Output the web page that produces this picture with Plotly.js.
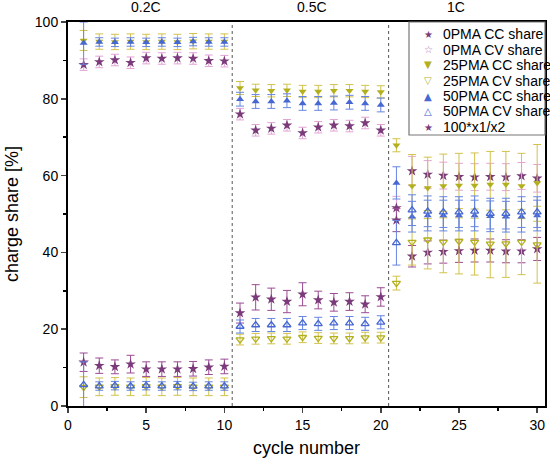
<!DOCTYPE html>
<html>
<head>
<meta charset="utf-8">
<script src="https://cdn.plot.ly/plotly-3.0.1.min.js"></script>
<style>html,body{margin:0;padding:0;background:#fff}#chart{width:550px;height:468px}</style>
</head>
<body>
<div id="chart"></div>
<script>
// ---- data ----
var cycles = [1,2,3,4,5,6,7,8,9,10,11,12,13,14,15,16,17,18,19,20,21,22,23,24,25,26,27,28,29,30];

var pma0CC = [88.9,89.6,90.1,89.4,90.6,90.5,90.6,90.5,89.9,89.8,
              76.0,71.8,72.3,73.1,71.1,72.6,73.1,72.9,73.7,71.8,
              51.6,61.2,60.3,60.0,59.7,59.6,59.7,59.6,59.9,59.3];
var pma0CCerr = [1.5,1.5,1.5,1.5,1.5,1.5,1.5,1.5,1.5,1.5,
                 1.5,1.5,1.5,1.5,1.5,1.5,1.5,1.5,1.5,1.5,
                 3.0,3.8,3.6,3.5,3.5,3.5,3.5,3.5,3.5,3.6];
var pma0CV = [11.4,10.5,10.2,10.9,9.6,9.6,9.6,9.7,10.1,10.3,
              24.2,28.3,27.8,27.2,29.1,27.6,27.0,27.2,26.5,28.4,
              48.4,39.0,40.0,40.2,40.4,40.5,40.5,40.3,40.3,40.9];
var pma0CVerr = [2.4,2.0,1.8,2.3,1.9,1.9,1.9,1.9,1.9,1.9,
                 2.6,3.3,2.9,2.9,3.0,2.3,2.3,2.3,2.2,2.4,
                 3.0,2.8,3.0,3.0,3.0,3.0,3.0,3.0,3.0,3.0];

var pma25CC = [95.2,94.9,94.8,94.9,94.8,94.9,94.8,95.0,94.9,94.9,
               82.8,82.2,82.1,82.2,81.9,81.9,82.1,82.1,81.9,81.8,
               67.9,57.3,56.8,57.3,57.4,57.4,57.7,57.7,57.3,58.1];
var pma25CCerr = [2.6,2.0,2.0,2.0,2.0,2.0,2.0,2.0,2.0,2.0,
                  1.7,1.6,1.6,1.6,1.6,1.6,1.6,1.6,1.6,1.6,
                  1.7,8.2,8.0,8.3,8.4,8.5,8.6,8.6,8.5,10.0];
var pma25CV = [4.9,5.0,5.1,5.0,5.1,5.0,5.1,5.0,5.0,5.0,
               17.3,17.5,17.6,17.5,17.9,17.7,17.6,17.6,17.8,17.8,
               32.0,42.7,43.3,42.7,42.9,42.7,42.2,42.3,42.7,42.0];
var pma25CVerr = [2.7,2.3,2.3,2.3,2.3,2.3,2.3,2.3,2.3,2.3,
                  1.4,1.4,1.4,1.4,1.4,1.4,1.4,1.4,1.4,1.4,
                  1.8,6.0,7.6,8.0,8.5,8.6,8.8,8.8,8.5,10.0];

var pma50CC = [94.5,94.8,94.7,94.8,94.7,94.8,94.7,94.9,94.8,94.8,
               79.9,79.3,79.3,79.5,78.8,78.8,78.9,79.1,78.8,78.4,
               58.1,49.3,49.6,49.6,49.6,49.6,49.4,49.3,49.3,49.6];
var pma50CCerr = [5.5,1.1,1.1,1.1,1.1,1.1,1.1,1.1,1.1,1.1,
                  1.8,1.8,1.8,1.8,1.8,1.8,1.8,1.8,1.8,1.8,
                  4.2,4.0,4.0,4.0,4.0,4.0,4.0,4.0,4.0,4.0];
var pma50CV = [5.5,5.2,5.3,5.2,5.3,5.2,5.3,5.1,5.2,5.2,
               20.7,21.1,21.1,21.1,21.6,21.4,21.6,21.6,21.4,21.8,
               42.5,51.0,50.7,50.5,50.5,50.7,50.1,50.1,50.5,50.5];
var pma50CVerr = [6.0,1.1,1.1,1.1,1.1,1.1,1.1,1.1,1.1,1.1,
                  1.7,1.7,1.7,1.7,1.7,1.7,1.7,1.7,1.7,1.7,
                  5.8,4.0,4.0,4.0,4.0,4.0,4.0,4.0,4.0,4.0];

var seriesNames = ['0PMA CC share','0PMA CV share','25PMA CC share','25PMA CV share','50PMA CC share','50PMA CV share','100*x1/x2'];
var legendSymbols = ['\u2605','\u2606','\u25BC','\u25BD','\u25B2','\u25B3','\u2605'];
var stageBounds = [10.5, 20.5];
var stageLabels = ['0.2C','0.5C','1C'];
var stageLabelX = [5.0, 15.6, 24.8];
var xTicks = [0,5,10,15,20,25,30];
var yTicks = [0,20,40,60,80,100];

// ---- styles ----
var cPurple = '#7b3a7a', cPink = '#e3a3d6', cPurpleBar = '#9a4b94', cPinkLeg = '#b070b0';
var cYellow = '#b2b01c', cYellowBar = '#d2c24c';
var cBlue = '#4767d2', cBlueBar = '#6685e2';
var legendColors = [cPurple, cPinkLeg, cYellow, cYellow, cBlue, cBlue, cPurple];

function tr(name, y, err, sym, size, col, barCol, openLine) {
  return {
    type: 'scatter', mode: 'markers', name: name, x: cycles, y: y, showlegend: false,
    marker: {symbol: sym, size: size, color: col, line: {color: col, width: openLine ? 1.3 : 0}},
    error_y: {type: 'data', array: err, visible: true, color: barCol, thickness: 1, width: 4}
  };
}

var data = [
  tr(seriesNames[0], pma0CC, pma0CCerr, 'star', 8, cPurple, cPink, false),
  tr(seriesNames[1], pma0CV, pma0CVerr, 'star', 8, cPurple, cPurpleBar, false),
  tr(seriesNames[2], pma25CC, pma25CCerr, 'triangle-down', 7, cYellow, cYellowBar, false),
  tr(seriesNames[3], pma25CV, pma25CVerr, 'triangle-down-open', 7, cYellow, cYellowBar, true),
  tr(seriesNames[4], pma50CC, pma50CCerr, 'triangle-up', 7, cBlue, cBlueBar, false),
  tr(seriesNames[5], pma50CV, pma50CVerr, 'triangle-up-open', 7, cBlue, cBlueBar, true)
];

// plot area in pixels (for legend placement)
var mL = 68, mR = 5, mT = 22, mB = 62, W = 550, H = 468;
var pw = W - mL - mR, ph = H - mT - mB;
function px(xp) { return (xp - mL) / pw; }
function py(yp) { return (H - mB - yp) / ph; }

var shapes = stageBounds.map(function (b) {
  return {type: 'line', xref: 'x', yref: 'paper', x0: b, x1: b, y0: 0, y1: 1,
          line: {color: '#555', width: 1, dash: 'dot'}};
});
shapes.push({type: 'rect', xref: 'paper', yref: 'paper', x0: px(409), x1: 1, y0: py(135), y1: 1,
             fillcolor: '#fff', line: {color: '#777', width: 1.2}, layer: 'above'});

var annotations = stageLabels.map(function (t, i) {
  return {text: t, xref: 'x', yref: 'paper', x: stageLabelX[i], y: 1.012,
          yanchor: 'bottom', showarrow: false, font: {size: 14, color: '#000'}};
});
seriesNames.forEach(function (n, i) {
  var rowY = py(34 + i * 15.5);
  annotations.push({text: legendSymbols[i], xref: 'paper', yref: 'paper', x: px(428), y: rowY,
                    xanchor: 'center', yanchor: 'middle', showarrow: false,
                    font: {family: 'DejaVu Sans', size: 10, color: legendColors[i]}});
  annotations.push({text: n, xref: 'paper', yref: 'paper', x: px(441), y: rowY,
                    xanchor: 'left', yanchor: 'middle', showarrow: false,
                    font: {size: 14, color: '#000'}});
});

var font = 'Liberation Sans, Arial, sans-serif';
var layout = {
  width: W, height: H,
  margin: {l: mL, r: mR, t: mT, b: mB},
  paper_bgcolor: '#fff', plot_bgcolor: '#fff',
  font: {family: font, color: '#000', size: 14},
  showlegend: false,
  xaxis: {range: [0, 30.5], tickvals: xTicks, ticks: 'outside', ticklen: 5, tickwidth: 1.5,
          showline: true, linewidth: 2, linecolor: '#000', mirror: true,
          showgrid: false, zeroline: false, tickfont: {size: 14},
          minor: {dtick: 2.5, tick0: 0, ticks: 'outside', ticklen: 3, tickwidth: 1.5, tickcolor: '#000', showgrid: false},
          title: {text: 'cycle number', font: {size: 18}, standoff: 10}},
  yaxis: {range: [0, 100], tickvals: yTicks, ticks: 'outside', ticklen: 5, tickwidth: 1.5,
          showline: true, linewidth: 2, linecolor: '#000', mirror: true,
          showgrid: false, zeroline: false, tickfont: {size: 14},
          minor: {dtick: 10, tick0: 0, ticks: 'outside', ticklen: 3, tickwidth: 1.5, tickcolor: '#000', showgrid: false},
          title: {text: 'charge share [%]', font: {size: 18}, standoff: 12}},
  shapes: shapes,
  annotations: annotations
};

Plotly.newPlot('chart', data, layout, {staticPlot: true, displayModeBar: false});
</script>
</body>
</html>
